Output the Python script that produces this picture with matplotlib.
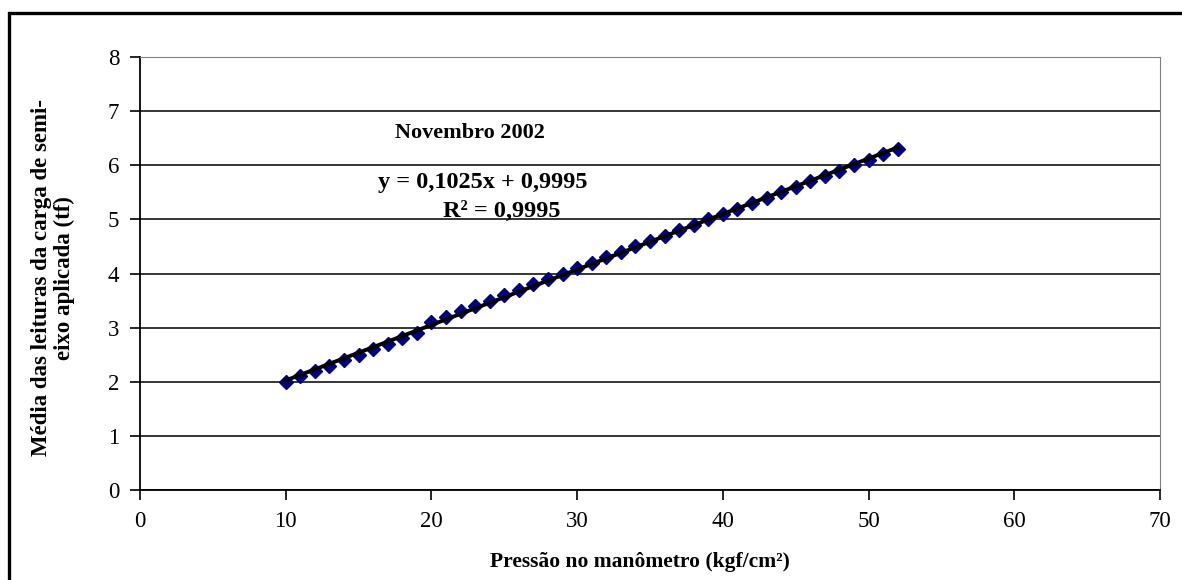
import matplotlib.pyplot as plt
from matplotlib.patches import Rectangle
import numpy as np

plt.rcParams['font.family'] = ['Liberation Serif', 'DejaVu Serif']

# pressure readings (kgf/cm2) and mean load (tf)
pressao = list(range(10, 53))
carga = [2.0, 2.1, 2.2, 2.3, 2.4, 2.5, 2.6, 2.7, 2.8, 2.9,
         3.1, 3.2, 3.3, 3.4, 3.5, 3.6, 3.7, 3.8, 3.9, 4.0,
         4.1, 4.2, 4.3, 4.4, 4.5, 4.6, 4.7, 4.8, 4.9, 5.0,
         5.1, 5.2, 5.3, 5.4, 5.5, 5.6, 5.7, 5.8, 5.9, 6.0,
         6.1, 6.2, 6.3]

# linear trendline
coef = np.polyfit(pressao, carga, 1)
xt = np.array([min(pressao), max(pressao)])
yt = np.polyval(coef, xt)

W, H = 1182, 580
fig = plt.figure(figsize=(W / 100, H / 100), dpi=100)
ax = fig.add_axes([140 / W, 1 - 490 / H, 1020 / W, 433 / H])

# outer chart border
fig.patches.append(Rectangle((9 / W, -0.05), 1.1, 1.05 - 13 / H,
                             transform=fig.transFigure, fill=False,
                             edgecolor='black', linewidth=2.4))

ax.plot(pressao, carga, linestyle='none', marker='D', markersize=7.5,
        color='#000080', zorder=3)
ax.plot(xt, yt, color='black', linewidth=2.8, zorder=4)

ax.set_xlim(0, 70)
ax.set_ylim(0, 8)
ax.set_xticks(range(0, 71, 10))
ax.set_yticks(range(0, 9))
ax.grid(axis='y', color='black', linewidth=1.1)
ax.set_axisbelow(True)

for s in ['top', 'right']:
    ax.spines[s].set_color('#808080')
for s in ['left', 'bottom']:
    ax.spines[s].set_color('black')
    ax.spines[s].set_linewidth(1.3)

ax.tick_params(direction='out', length=7, width=1.2, labelsize=16.5, pad=8)

fig.text(640 / W, 1 - 562 / H, 'Pressão no manômetro (kgf/cm²)',
         fontsize=15.5, fontweight='bold', ha='center', va='center')
fig.text(53 / W, 1 - 278 / H,
         'Média das leituras da carga de semi-\neixo aplicada (tf)',
         fontsize=16.5, fontweight='bold', ha='center', va='center',
         rotation=90, linespacing=1.1, multialignment='center')

ax.text(22.65, 6.6, 'Novembro 2002', fontsize=16, fontweight='bold',
        ha='center', va='center')
ax.text(23.5, 5.69, 'y = 0,1025x + 0,9995', fontsize=17.5, fontweight='bold',
        ha='center', va='center')
ax.text(24.8, 5.15, 'R² = 0,9995', fontsize=17.5, fontweight='bold',
        ha='center', va='center')

fig.savefig('out.png', dpi=100)
